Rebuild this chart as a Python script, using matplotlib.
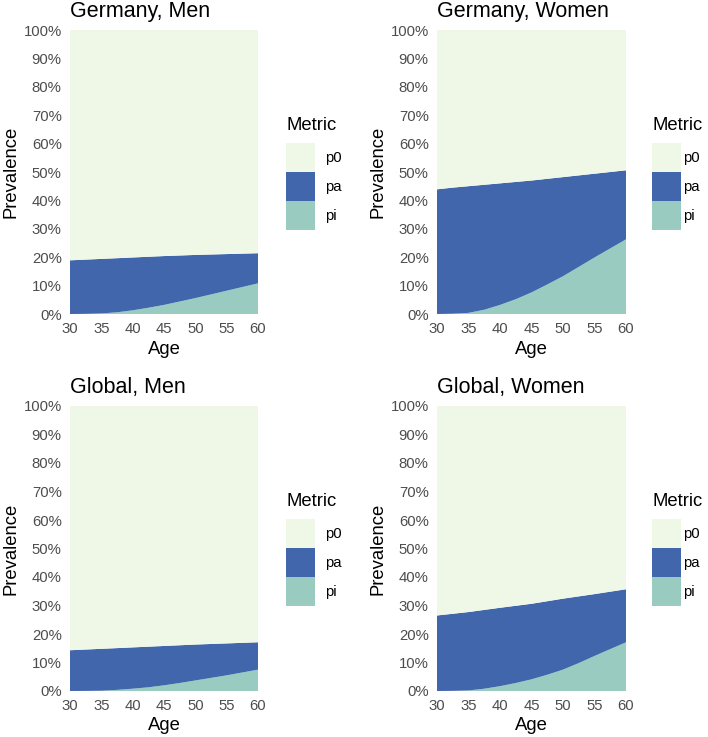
import numpy as np
import matplotlib
matplotlib.use("Agg")
import matplotlib.pyplot as plt
from matplotlib.patches import Patch
from matplotlib.ticker import PercentFormatter

plt.rcParams["font.family"] = ["Liberation Sans", "DejaVu Sans"]

# ages on the x axis
ages = [30, 32.5, 35, 37.5, 40, 42.5, 45, 47.5, 50, 52.5, 55, 57.5, 60]

# prevalence in %: pi share and upper edge of pa (pi + pa)
germany_men_pi = [0, 0.05, 0.2, 0.6, 1.3, 2.2, 3.2, 4.4, 5.6, 6.9, 8.2, 9.5, 10.8]
germany_men_top = [18.9, 19.15, 19.4, 19.65, 19.9, 20.15, 20.4, 20.6, 20.8, 20.95, 21.1, 21.25, 21.4]
germany_women_pi = [0, 0.1, 0.4, 1.5, 3.2, 5.2, 7.6, 10.4, 13.3, 16.6, 19.9, 23.1, 26.3]
germany_women_top = [43.9, 44.5, 45.0, 45.5, 46.0, 46.5, 47.0, 47.6, 48.2, 48.8, 49.4, 50.0, 50.6]
global_men_pi = [0, 0.03, 0.1, 0.4, 0.8, 1.3, 2.0, 2.8, 3.7, 4.6, 5.5, 6.5, 7.5]
global_men_top = [14.3, 14.55, 14.8, 15.05, 15.3, 15.55, 15.8, 16.05, 16.3, 16.5, 16.7, 16.9, 17.1]
global_women_pi = [0, 0.05, 0.2, 0.8, 1.7, 2.8, 4.1, 5.7, 7.5, 9.8, 12.3, 14.7, 17.1]
global_women_top = [26.5, 27.1, 27.7, 28.45, 29.2, 29.9, 30.6, 31.5, 32.4, 33.2, 34.0, 34.85, 35.7]

titles = ["Germany, Men", "Germany, Women", "Global, Men", "Global, Women"]
metrics = ["p0", "pa", "pi"]
colors = {"p0": "#eff7e7", "pa": "#4166ab", "pi": "#99cbc0"}

panels = [
    (germany_men_pi, germany_men_top),
    (germany_women_pi, germany_women_top),
    (global_men_pi, global_men_top),
    (global_women_pi, global_women_top),
]

W, H = 708, 737
fig = plt.figure(figsize=(W / 100, H / 100), dpi=100)

# axes boxes in pixels: left, top, right, bottom, plus legend left edge and label gap
boxes = [(70, 30, 258, 314, 286, 0.67), (437, 30, 626, 314, 652, 0.15),
         (70, 406, 258, 691, 286, 0.67), (437, 406, 626, 691, 652, 0.15)]

tick_col = "#4d4d4d"
fs_leg = 10.7
for (pi, top), title, (l, t, r, b, lx, gap) in zip(panels, titles, boxes):
    ax = fig.add_axes([l / W, 1 - b / H, (r - l) / W, (b - t) / H])
    pi = np.array(pi) / 100
    top = np.array(top) / 100
    pa = top - pi
    p0 = 1 - top
    ax.stackplot(ages, pi, pa, p0,
                 colors=[colors["pi"], colors["pa"], colors["p0"]],
                 linewidth=0)
    ax.set_xlim(30, 60)
    ax.set_ylim(0, 1)
    ax.set_xticks(range(30, 61, 5))
    ax.set_yticks(np.arange(0, 1.01, 0.1))
    ax.yaxis.set_major_formatter(PercentFormatter(1.0, decimals=0))
    ax.tick_params(length=0, labelsize=10.7, labelcolor=tick_col, pad=6)
    for s in ax.spines.values():
        s.set_visible(False)
    ax.set_title(title, loc="left", fontsize=15.5, pad=9)
    ax.set_xlabel("Age", fontsize=13.3, labelpad=3)
    ax.set_ylabel("Prevalence", fontsize=13.3, labelpad=3)

    # legend: title as plain text, square keys stacked without gaps
    fig.text(lx / W, 1 - (t + 87) / H, "Metric", fontsize=13.3,
             ha="left", va="top")
    handles = [Patch(facecolor=colors[m], edgecolor="none", label=m) for m in metrics]
    ax.legend(handles=handles, loc="upper left",
              bbox_to_anchor=(lx / W, 1 - (t + 113) / H),
              bbox_transform=fig.transFigure, frameon=False,
              fontsize=fs_leg, handlelength=1.95, handleheight=2.63,
              labelspacing=0, handletextpad=gap, borderpad=0,
              borderaxespad=0)

fig.savefig("out.png", dpi=100)
